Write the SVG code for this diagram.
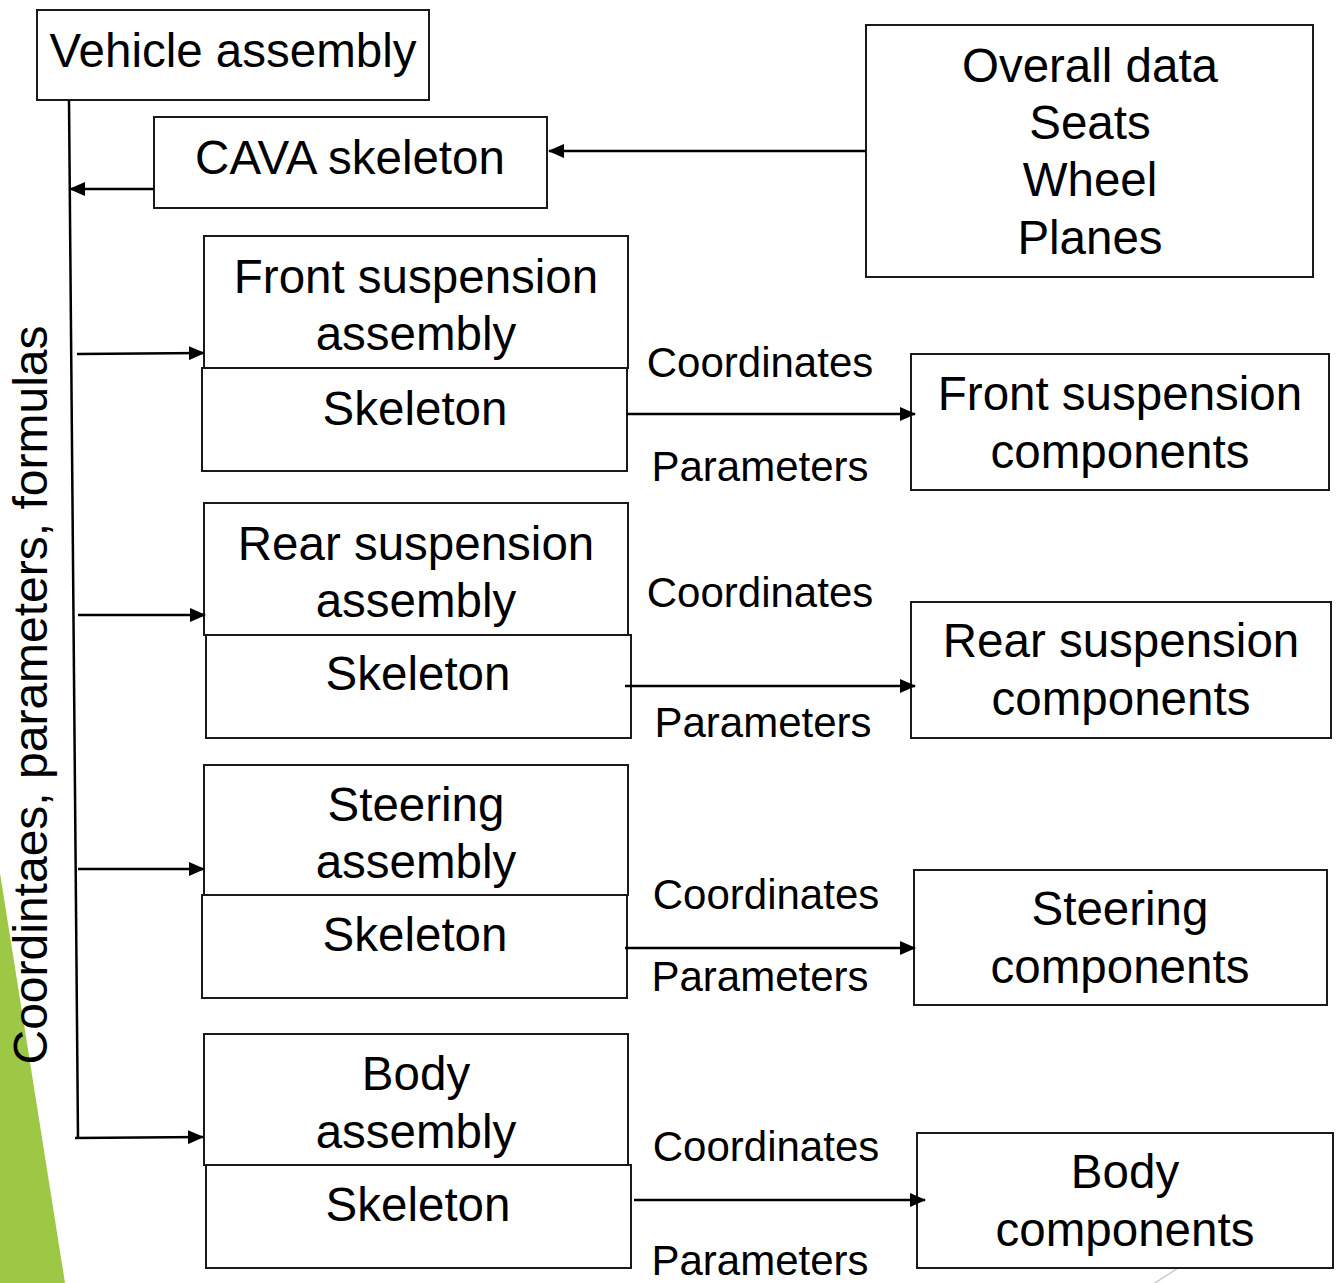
<svg xmlns="http://www.w3.org/2000/svg" width="1336" height="1283" viewBox="0 0 1336 1283">
  <style>
    .box { fill: #ffffff; stroke: #1a1a1a; stroke-width: 2; }
    .t { font-family: "Liberation Sans", Arial, sans-serif; font-size: 47.5px; fill: #000; text-anchor: middle; }
    .side { font-family: "Liberation Sans", Arial, sans-serif; font-size: 48px; fill: #000; text-anchor: middle; }
    .lbl { font-family: "Liberation Sans", Arial, sans-serif; font-size: 42px; fill: #000; text-anchor: middle; }
    .wire { fill: none; stroke: #000; stroke-width: 2.5; }
  </style>
  <defs>
    <marker id="head" markerUnits="userSpaceOnUse" markerWidth="16" markerHeight="14" refX="15" refY="7" orient="auto">
      <path d="M0,0 L16,7 L0,14 Z" fill="#000"/>
    </marker>
  </defs>

  <rect width="1336" height="1283" fill="#ffffff"/>

  <!-- slide decoration -->
  <polygon points="0,873 65,1283 0,1283" fill="#9dc845"/>
  <line x1="1155" y1="1283" x2="1178" y2="1268" stroke="#cccccc" stroke-width="1.5"/>

  <!-- vertical side label -->
  <text class="side" transform="translate(47,695) rotate(-90)">Coordintaes, parameters, formulas</text>

  <g id="vehicle-assembly">
    <rect class="box" x="37" y="10" width="392" height="90"/>
    <text class="t" x="233" y="67">Vehicle assembly</text>
  </g>

  <g id="cava-skeleton">
    <rect class="box" x="154" y="117" width="393" height="91"/>
    <text class="t" x="350" y="174">CAVA skeleton</text>
  </g>

  <g id="overall-data">
    <rect class="box" x="866" y="25" width="447" height="252"/>
    <text class="t" x="1090" y="82">Overall data</text>
    <text class="t" x="1090" y="139">Seats</text>
    <text class="t" x="1090" y="196">Wheel</text>
    <text class="t" x="1090" y="254">Planes</text>
  </g>

  <g id="front-suspension-assembly">
    <rect class="box" x="204" y="236" width="424" height="132"/>
    <text class="t" x="416" y="293">Front suspension</text>
    <text class="t" x="416" y="350">assembly</text>
  </g>
  <g id="front-suspension-skeleton">
    <rect class="box" x="202" y="368" width="425" height="103"/>
    <text class="t" x="415" y="425">Skeleton</text>
  </g>
  <g id="front-suspension-components">
    <rect class="box" x="911" y="354" width="418" height="136"/>
    <text class="t" x="1120" y="410">Front suspension</text>
    <text class="t" x="1120" y="468">components</text>
  </g>

  <g id="rear-suspension-assembly">
    <rect class="box" x="204" y="503" width="424" height="132"/>
    <text class="t" x="416" y="560">Rear suspension</text>
    <text class="t" x="416" y="617">assembly</text>
  </g>
  <g id="rear-suspension-skeleton">
    <rect class="box" x="206" y="635" width="425" height="103"/>
    <text class="t" x="418" y="690">Skeleton</text>
  </g>
  <g id="rear-suspension-components">
    <rect class="box" x="911" y="602" width="420" height="136"/>
    <text class="t" x="1121" y="657">Rear suspension</text>
    <text class="t" x="1121" y="715">components</text>
  </g>

  <g id="steering-assembly">
    <rect class="box" x="204" y="765" width="424" height="130"/>
    <text class="t" x="416" y="821">Steering</text>
    <text class="t" x="416" y="878">assembly</text>
  </g>
  <g id="steering-skeleton">
    <rect class="box" x="202" y="895" width="425" height="103"/>
    <text class="t" x="415" y="951">Skeleton</text>
  </g>
  <g id="steering-components">
    <rect class="box" x="914" y="870" width="413" height="135"/>
    <text class="t" x="1120" y="925">Steering</text>
    <text class="t" x="1120" y="983">components</text>
  </g>

  <g id="body-assembly">
    <rect class="box" x="204" y="1034" width="424" height="131"/>
    <text class="t" x="416" y="1090">Body</text>
    <text class="t" x="416" y="1148">assembly</text>
  </g>
  <g id="body-skeleton">
    <rect class="box" x="206" y="1165" width="425" height="103"/>
    <text class="t" x="418" y="1221">Skeleton</text>
  </g>
  <g id="body-components">
    <rect class="box" x="917" y="1133" width="416" height="135"/>
    <text class="t" x="1125" y="1188">Body</text>
    <text class="t" x="1125" y="1246">components</text>
  </g>

  <!-- connectors -->
  <g id="connectors">
    <line class="wire" x1="69" y1="100" x2="78" y2="1138"/>
    <line class="wire" x1="154" y1="189" x2="70" y2="189" marker-end="url(#head)"/>
    <line class="wire" x1="866" y1="151" x2="549" y2="151" marker-end="url(#head)"/>

    <line class="wire" x1="77" y1="354" x2="204" y2="353" marker-end="url(#head)"/>
    <line class="wire" x1="78" y1="615" x2="205" y2="615" marker-end="url(#head)"/>
    <line class="wire" x1="78" y1="869" x2="204" y2="869" marker-end="url(#head)"/>
    <line class="wire" x1="75" y1="1138" x2="203" y2="1137" marker-end="url(#head)"/>

    <line class="wire" x1="627" y1="414" x2="915" y2="414" marker-end="url(#head)"/>
    <line class="wire" x1="625" y1="686" x2="915" y2="686" marker-end="url(#head)"/>
    <line class="wire" x1="625" y1="948" x2="915" y2="948" marker-end="url(#head)"/>
    <line class="wire" x1="634" y1="1200" x2="925" y2="1200" marker-end="url(#head)"/>

    <text class="lbl" x="760" y="377">Coordinates</text>
    <text class="lbl" x="760" y="481">Parameters</text>
    <text class="lbl" x="760" y="607">Coordinates</text>
    <text class="lbl" x="763" y="737">Parameters</text>
    <text class="lbl" x="766" y="909">Coordinates</text>
    <text class="lbl" x="760" y="991">Parameters</text>
    <text class="lbl" x="766" y="1161">Coordinates</text>
    <text class="lbl" x="760" y="1275">Parameters</text>
  </g>
</svg>
